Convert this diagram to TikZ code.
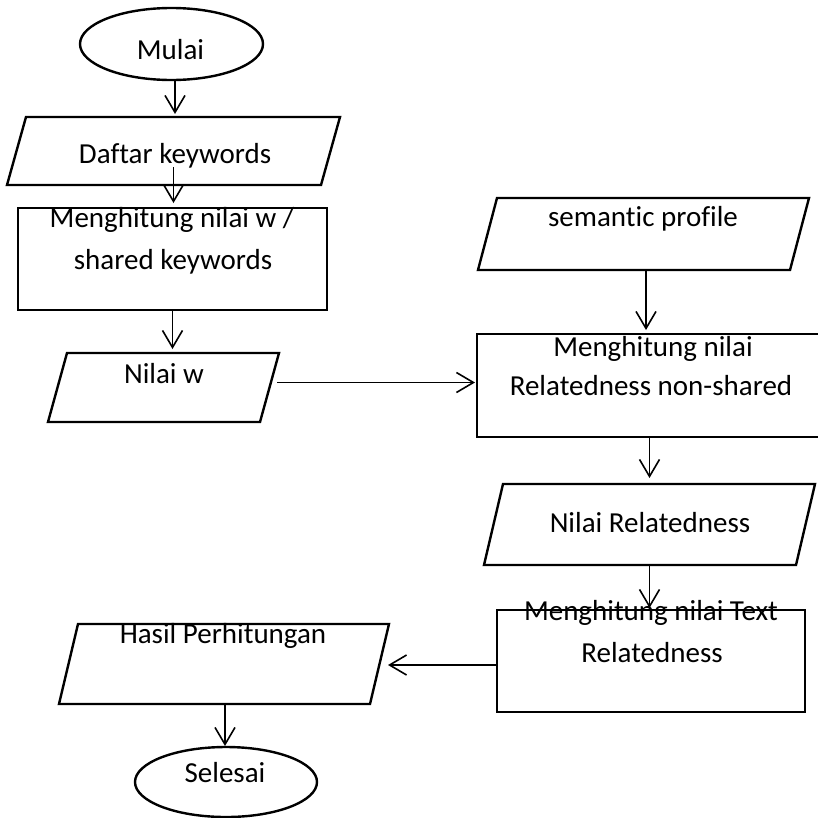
\documentclass[tikz,border=0pt]{standalone}
\usepackage{fontspec}
\setmainfont{Carlito}[Ligatures=NoCommon]
\usetikzlibrary{shapes.geometric,arrows.meta}
\begin{document}
\begin{tikzpicture}[x=1pt,y=-1pt,
  box/.style={draw, line width=2.4pt, rectangle, inner sep=0pt, outer sep=0pt},
  term/.style={draw, line width=2.4pt, ellipse, inner sep=0pt, outer sep=0pt},
  io/.style={rectangle, inner sep=0pt, outer sep=0pt,
    append after command={\pgfextra{\draw[line width=2.4pt]
      ([xshift=19pt]\tikzlastnode.north west) -- (\tikzlastnode.north east)
      -- ([xshift=-19pt]\tikzlastnode.south east) -- (\tikzlastnode.south west) -- cycle;}}},
  lbl/.style={anchor=base, inner sep=0pt, font=\fontsize{29}{35}\selectfont},
  arr/.style={line width=1.6pt, -{Straight Barb[length=17pt,width=20pt,line width=1.6pt]}}]
\useasboundingbox (0,0) rectangle (818,817);

% shapes of the flowchart
\node[term, minimum width=183pt, minimum height=72pt] (mulai) at (171.5,44) {};
\node[io, minimum width=333pt, minimum height=68pt] (daftar) at (173.5,151) {};
\node[box, minimum width=309pt, minimum height=102pt] (hitungw) at (172.5,259) {};
\node[io, minimum width=231pt, minimum height=69pt] (nilaiw) at (163.5,387.5) {};
\node[io, minimum width=331pt, minimum height=72pt] (profil) at (643.5,234) {};
\node[box, minimum width=345pt, minimum height=103pt] (hitungrel) at (649.5,385.5) {};
\node[io, minimum width=331pt, minimum height=81pt] (nilairel) at (649.5,524.5) {};
\node[box, minimum width=308pt, minimum height=102pt] (hitungtext) at (651,661) {};
\node[io, minimum width=330pt, minimum height=80pt] (hasil) at (224,664) {};
\node[term, minimum width=182pt, minimum height=70pt] (selesai) at (226,782) {};

% texts
\node[lbl] (tmulai) at (170.5,59) {Mulai};
\node[lbl] (tdaftar) at (175,163) {Daftar keywords};
\node[lbl] (thitungwa) at (172,227) {Menghitung nilai w /};
\node[lbl] (thitungwb) at (173,269) {shared keywords};
\node[lbl] (tnilaiw) at (164,383) {Nilai w};
\node[lbl] (tprofil) at (643,226) {semantic profile};
\node[lbl] (thitungrela) at (653,356) {Menghitung nilai};
\node[lbl] (thitungrelb) at (651,395) {Relatedness non-shared};
\node[lbl] (tnilairel) at (650,532) {Nilai Relatedness};
\node[lbl] (thitungtexta) at (651,620) {Menghitung nilai Text};
\node[lbl] (thitungtextb) at (652,662) {Relatedness};
\node[lbl] (thasil) at (223,643) {Hasil Perhitungan};
\node[lbl] (tselesai) at (225,782) {Selesai};

% connectors
\draw[arr] ([xshift=3.5pt]mulai.south) -- ([xshift=3.5pt,yshift=3pt]mulai.south |- daftar.north);
\draw[arr] ([yshift=18pt]daftar.south) -- ([yshift=5pt]daftar.south |- hitungw.north);
\draw[arr] (hitungw.south) -- ([yshift=4pt]hitungw.south |- nilaiw.north);
\draw[arr] ([xshift=-2pt,yshift=5pt]nilaiw.east) -- ([xshift=-2pt,yshift=5pt]hitungrel.west |- nilaiw.east);
\draw[arr] ([xshift=2.5pt]profil.south) -- ([xshift=2.5pt,yshift=4pt]profil.south |- hitungrel.north);
\draw[arr] (hitungrel.south) -- ([yshift=6pt]hitungrel.south |- nilairel.north);
\draw[arr] (nilairel.south) -- ([yshift=2pt]nilairel.south |- hitungtext.north);
\draw[arr] ([yshift=-4pt]hitungtext.west) -- ([xshift=-1pt,yshift=-4pt]hitungtext.west -| hasil.east);
\draw[arr] ([xshift=1pt]hasil.south) -- ([xshift=1pt,yshift=1pt]hasil.south |- selesai.north);
\end{tikzpicture}
\end{document}
